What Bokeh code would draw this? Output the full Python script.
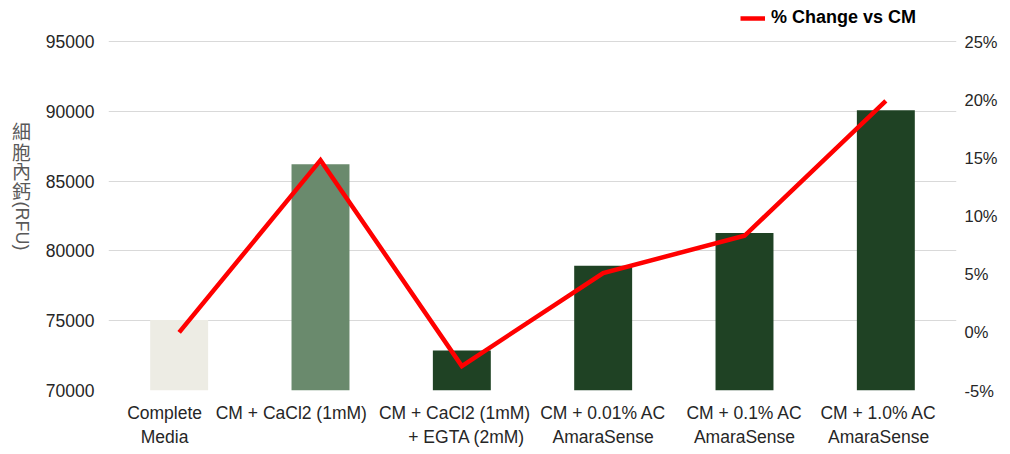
import math
from bokeh.plotting import figure
from bokeh.layouts import row
from bokeh.core.properties import value
from bokeh.models import (Range1d, LinearAxis, FixedTicker, NumeralTickFormatter,
                          Legend, LegendItem, FactorRange, ColumnDataSource)
from bokeh.embed import file_html
from bokeh.resources import INLINE

NB = "\u00a0"
categories = ["Complete\nMedia", "CM + CaCl2 (1mM)", "CM + CaCl2 (1mM)\n+ EGTA (2mM)",
              "CM + 0.01% AC\nAmaraSense", "CM + 0.1% AC\nAmaraSense", "CM + 1.0% AC\nAmaraSense"]
# displayed tick labels (Excel shifts some of them left to avoid overlaps)
tick_labels = ["Complete" + NB * 6 + "\nMedia" + NB * 6,
               "CM + CaCl2 (1mM)" + NB * 12,
               "CM + CaCl2 (1mM)" + NB * 3 + "\n" + NB * 5 + "+ EGTA (2mM)" + NB * 3,
               "CM + 0.01% AC\nAmaraSense",
               "CM + 0.1% AC\nAmaraSense",
               "CM + 1.0% AC" + NB * 3 + "\nAmaraSense" + NB * 3]
rfu_values = [75050, 86200, 72870, 78930, 81290, 90070]
pct_change = [0.0, 0.148, -0.029, 0.051, 0.083, 0.199]
bar_colors = ["#EDECE4", "#6A8A6D", "#1F4224", "#1F4224", "#1F4224", "#1F4224"]
left_ticks = [70000, 75000, 80000, 85000, 90000, 95000]
right_ticks = [-0.05, 0.0, 0.05, 0.10, 0.15, 0.20, 0.25]
y_title_chars = ["細", "胞", "內", "鈣"]
y_title_tail = "(RFU)"
legend_label = "% Change vs CM"

FONT = "Liberation Sans"
TXT = "#262626"
H = 438
TW = 40            # width of the y-title strip
FH = 390           # frame height (frame reaches the top so the legend fits inside)
GRID_TOP = 41      # pixel row of the 95000 / 25% gridline
span_px = FH - GRID_TOP
left_top = 95000 + GRID_TOP * 25000 / span_px
right_top = 0.25 + GRID_TOP * 0.30 / span_px

# ---------- y-title strip (its frame is aligned with the main frame by the row) ----------
t = figure(width=TW, height=H, x_range=Range1d(0, TW), y_range=Range1d(0, FH),
           min_border=0, min_border_bottom=H - FH, x_axis_location=None, y_axis_location=None,
           output_backend="svg", toolbar_location=None)
t.outline_line_color = None
t.xgrid.grid_line_color = None
t.ygrid.grid_line_color = None
char_y = [134, 155, 175, 196]
t.text(x=[21] * len(y_title_chars), y=[FH - v for v in char_y], text=y_title_chars,
       text_font=value("Noto Sans CJK TC"), text_font_size="19px",
       text_color="#595959", text_align="center", text_baseline="middle")
t.text(x=[21], y=[FH - 232], text=[y_title_tail], angle=-math.pi / 2,
       text_font=value(FONT), text_font_size="18px",
       text_color="#595959", text_align="center", text_baseline="middle")

# ---------- main chart ----------
p = figure(x_range=FactorRange(*tick_labels, range_padding=0),
           y_range=Range1d(70000, left_top),
           frame_width=848, frame_height=FH,
           min_border_left=108 - TW, min_border_right=20, min_border_top=0,
           min_border_bottom=H - FH,
           output_backend="svg", toolbar_location=None)
p.outline_line_color = None
p.background_fill_color = "white"
p.border_fill_color = "white"

p.extra_y_ranges = {"pct": Range1d(-0.05, right_top)}

src = ColumnDataSource(dict(x=tick_labels, name=categories, top=rfu_values, color=bar_colors))
p.vbar(x="x", top="top", bottom=70000, width=0.41, color="color", line_color=None, source=src)

line_r = p.line(x=tick_labels, y=pct_change, y_range_name="pct", line_color="#FF0000",
                line_width=4.5, line_join="miter")

ya = p.yaxis[0]
ya.ticker = FixedTicker(ticks=left_ticks)
ya.formatter = NumeralTickFormatter(format="0")
ya.axis_line_color = None
ya.major_tick_line_color = None
ya.major_tick_out = 0
ya.minor_tick_line_color = None
ya.minor_tick_out = 0
ya.major_label_standoff = 14
ya.major_label_text_font = FONT
ya.major_label_text_font_size = "17.5px"
ya.major_label_text_color = TXT

ra = LinearAxis(y_range_name="pct", ticker=FixedTicker(ticks=right_ticks),
                formatter=NumeralTickFormatter(format="0%"))
ra.axis_line_color = None
ra.major_tick_line_color = None
ra.major_tick_out = 0
ra.minor_tick_line_color = None
ra.minor_tick_out = 0
ra.major_label_standoff = 8
ra.major_label_text_font = FONT
ra.major_label_text_font_size = "16.5px"
ra.major_label_text_color = TXT
p.add_layout(ra, "right")

xa = p.xaxis[0]
xa.axis_line_color = None
xa.major_tick_line_color = None
xa.major_tick_out = 0
xa.minor_tick_line_color = None
xa.minor_tick_out = 0
xa.major_label_standoff = 12
xa.major_label_text_font = FONT
xa.major_label_text_font_size = "17.5px"
xa.major_label_text_color = TXT
xa.major_label_orientation = "horizontal"

p.xgrid.grid_line_color = None
p.ygrid.grid_line_color = "#D9D9D9"
p.ygrid.grid_line_width = 1

legend = Legend(items=[LegendItem(label=legend_label, renderers=[line_r])],
                location=(632, FH - 28), orientation="horizontal",
                padding=0, margin=0, spacing=0, label_standoff=6,
                glyph_width=25, glyph_height=20, label_height=20,
                border_line_color=None, background_fill_alpha=0,
                label_text_font=FONT, label_text_font_size="18px",
                label_text_font_style="bold", label_text_color="#000000")
p.add_layout(legend, "center")

layout = row(t, p, spacing=0)
open("out.html", "w").write(file_html(layout, INLINE))
